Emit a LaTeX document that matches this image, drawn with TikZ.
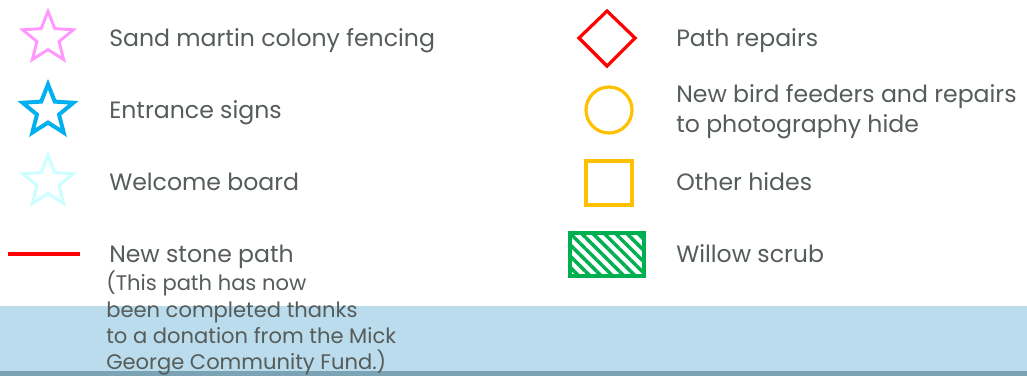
\documentclass[tikz,border=0pt]{standalone}
\usepackage{fontspec}
\setmainfont{Poppins}
\usetikzlibrary{shapes.geometric,patterns.meta}

\definecolor{txtgray}{RGB}{85,92,90}
\definecolor{starpink}{RGB}{255,153,255}
\definecolor{starblue}{RGB}{0,176,240}
\definecolor{starcyan}{RGB}{204,255,255}
\definecolor{hidegold}{RGB}{255,192,0}
\definecolor{scrubgreen}{RGB}{0,176,80}
\definecolor{bandblue}{RGB}{187,220,236}
\definecolor{banddark}{RGB}{123,163,179}

\tikzset{
  keytext/.style={anchor=base west, inner sep=0pt, text=txtgray, font=\fontsize{17.7}{20}\selectfont},
  notetext/.style={anchor=base west, inner sep=0pt, text=txtgray, font=\fontsize{15.8}{20}\selectfont},
  keystar/.style={star, star points=5, star point ratio=2.3, draw=#1, line width=2.6pt, minimum size=40pt, inner sep=0pt},
}

\begin{document}
\begin{tikzpicture}[x=0.75pt,y=-0.75pt]
  \useasboundingbox (0,0) rectangle (1027,376);
  % band at the bottom
  \fill[bandblue] (0,306) rectangle (1027,371);
  \fill[banddark] (0,371) rectangle (1027,376);

  % left column
  \node[keystar=starpink, line width=2.2pt] (fencing) at (48,38) {};
  \node[keystar=starblue, line width=3pt] (signs) at (48,111) {};
  \node[keystar=starcyan, line width=2.2pt] (welcome) at (48,182) {};
  \coordinate (pathA) at (8,254);
  \coordinate (pathB) at (80,254);
  \draw[red, line width=2.4pt] (pathA) -- (pathB);

  \node[keytext] (fencinglbl) at (109,46) {Sand martin colony fencing};
  \node[keytext] (signslbl) at (109,118) {Entrance signs};
  \node[keytext] (welcomelbl) at (109,190) {Welcome board};
  \node[keytext] (pathlbl) at (109,262) {New stone path};
  \node[notetext] (note1) at (106,290) {(This path has now};
  \node[notetext] (note2) at (106,317) {been completed thanks};
  \node[notetext] (note3) at (106,343) {to a donation from the Mick};
  \node[notetext] (note4) at (106,369) {George Community Fund.)};

  % right column
  \draw[red, line width=2.4pt] (579,38) -- (607,11) -- (635,38) -- (607,66) -- cycle;
  \draw[hidegold, line width=2.4pt] (609,110) circle (23);
  \draw[hidegold, line width=2.4pt] (586,161) rectangle (632,205);
  \fill[pattern={Lines[angle=-45,distance=6pt,line width=2.6pt]}, pattern color=scrubgreen]
    (570,233) rectangle (644,276);
  \draw[scrubgreen, line width=2.4pt] (570,233) rectangle (644,276);

  \node[keytext] (repairslbl) at (676,46) {Path repairs};
  \node[keytext] (feederslbl) at (676,102) {New bird feeders and repairs};
  \node[keytext] (feeders2lbl) at (676,132) {to photography hide};
  \node[keytext] (hideslbl) at (676,190) {Other hides};
  \node[keytext] (scrublbl) at (676,262) {Willow scrub};
\end{tikzpicture}
\end{document}
